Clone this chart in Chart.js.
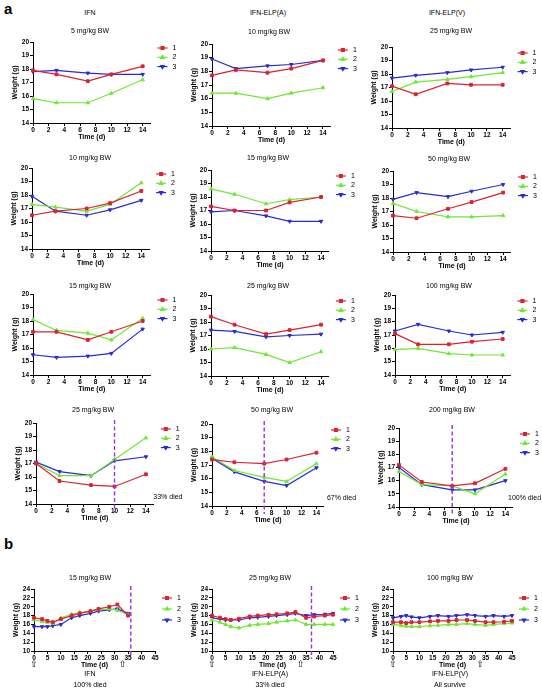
<!DOCTYPE html>
<html>
<head>
<meta charset="utf-8">
<script src="https://cdn.jsdelivr.net/npm/chart.js@4.4.1/dist/chart.umd.min.js"></script>
<style>
  body { margin: 0; background: #fff; }
  #fig { position: relative; width: 542px; height: 688px; font-family: "Liberation Sans", Arial, sans-serif; color: #000; overflow: hidden; }
  .t { position: absolute; font-size: 7px; white-space: nowrap; transform: translate(-50%, -50%); color: #000; }
  .lab { position: absolute; font-size: 15px; font-weight: bold; }
  canvas { position: absolute; }
</style>
</head>
<body>
<div id="fig"></div>
<script>
// ---- data ----
const groups = ["1", "2", "3"];
const daysA = [0, 3, 7, 10, 14];
const xTicksA = [0, 2, 4, 6, 8, 10, 12, 14];
const yTicksA = [14, 15, 16, 17, 18, 19, 20];
const daysB = [0, 3, 5, 7, 10, 14, 17, 21, 24, 28, 31, 35];
const daysBLong = [0, 3, 5, 7, 10, 14, 17, 21, 24, 28, 31, 35, 38, 42, 45];
const xTicksB = [0, 5, 10, 15, 20, 25, 30, 35, 40, 45];
const yTicksB = [10, 12, 14, 16, 18, 20, 22, 24];

// IFN
const ifn5 = [[17.9, 17.6, 17.1, 17.6, 18.2], [15.8, 15.5, 15.5, 16.2, 17.2], [17.8, 17.9, 17.7, 17.6, 17.6]];
const ifn10 = [[16.5, 16.8, 17.0, 17.4, 18.3], [17.3, 17.1, 16.8, 17.3, 18.9], [17.9, 16.8, 16.5, 16.9, 17.6]];
const ifn15 = [[17.2, 17.2, 16.6, 17.2, 18.0], [18.1, 17.3, 17.1, 16.6, 18.2], [15.5, 15.3, 15.4, 15.6, 17.4]];
const ifn25 = [[17.0, 15.7, 15.4, 15.3, 16.2], [17.0, 16.1, 16.1, 17.3, 18.9], [17.1, 16.4, 16.1, 17.2, 17.5]];
// IFN-ELP(A)
const elpA10 = [[17.7, 18.1, 17.9, 18.2, 18.8], [16.4, 16.4, 16.0, 16.4, 16.8], [18.9, 18.2, 18.4, 18.5, 18.8]];
const elpA15 = [[17.3, 17.0, 17.0, 17.6, 18.0], [18.6, 18.2, 17.5, 17.8, 18.0], [16.9, 17.0, 16.6, 16.2, 16.2]];
const elpA25 = [[18.4, 17.8, 17.1, 17.4, 17.8], [16.0, 16.1, 15.6, 15.0, 15.8], [17.4, 17.3, 16.9, 17.0, 17.1]];
const elpA50 = [[17.4, 17.2, 17.1, 17.4, 17.9], [17.6, 16.6, 16.1, 15.8, 17.1], [17.5, 16.5, 15.8, 15.5, 16.8]];
// IFN-ELP(V)
const elpV25 = [[17.1, 16.5, 17.3, 17.2, 17.2], [16.7, 17.4, 17.6, 17.8, 18.1], [17.7, 17.9, 18.1, 18.3, 18.5]];
const elpV50 = [[16.7, 16.5, 17.2, 17.7, 18.4], [17.6, 17.0, 16.6, 16.6, 16.7], [17.9, 18.4, 18.1, 18.5, 19.0]];
const elpV100 = [[17.1, 16.3, 16.3, 16.5, 16.7], [15.9, 16.0, 15.6, 15.5, 15.5], [17.3, 17.8, 17.3, 17.0, 17.2]];
const elpV200 = [[17.2, 15.9, 15.6, 15.8, 16.9], [16.7, 15.7, 15.6, 15.0, 16.5], [17.0, 15.7, 15.3, 15.3, 16.0]];
// b: long term
const bIfn15 = [[17.5, 17.2, 16.8, 16.5, 17.2, 18.0, 18.5, 19.0, 19.5, 20.0, 20.5, 18.0],
                [17.0, 16.7, 16.5, 16.2, 17.5, 18.3, 18.7, 19.0, 19.3, 19.5, 19.2, 18.2],
                [15.5, 15.5, 15.5, 15.7, 16.0, 17.5, 18.0, 18.5, 19.0, 19.3, 19.5, 18.5]];
const bElpA25 = [[18.0, 17.5, 17.2, 17.0, 17.3, 17.8, 18.0, 18.2, 18.3, 18.5, 18.8, 17.5, 17.8, 18.0, 18.2],
                 [17.0, 16.5, 16.0, 15.5, 15.2, 15.8, 16.0, 16.2, 16.5, 16.8, 17.0, 16.0, 16.0, 16.0, 16.0],
                 [17.5, 17.2, 17.0, 17.0, 17.0, 17.5, 17.6, 17.8, 18.0, 18.2, 18.5, 18.0, 18.2, 18.3, 18.5]];
const bElpV100 = [[16.5, 16.5, 16.3, 16.5, 16.5, 16.7, 16.8, 16.8, 17.0, 17.0, 16.8, 16.5, 16.5, 16.6, 16.8],
                  [16.0, 15.8, 15.6, 15.5, 15.5, 15.7, 15.8, 16.0, 16.0, 16.2, 16.0, 15.8, 16.0, 16.2, 16.3],
                  [17.5, 17.8, 18.0, 17.7, 17.5, 17.8, 18.0, 17.8, 18.0, 18.2, 18.0, 17.8, 18.0, 17.8, 18.0]];

// ---- styles ----
const colors = ["#dd2233", "#6ee832", "#2b2bd0"];
const marks = ["rect", "triangle", "triangle"];
const markRot = [0, 0, 180];

const A = { days: daysA, xt: xTicksA, yt: yTicksA, xmax: 15, ymin: 14, ymax: 20, legTop: 6, legGap: 9.3 };
const B = { yt: yTicksB, xt: xTicksB, xmax: 45, ymin: 10, ymax: 24, legTop: 9, legGap: 11 };

const panels = [
  { d: ifn5, s: A, box: [33, 150.5, 42, 122.7], title: "5 mg/kg BW", tx: 90, ty: 30 },
  { d: elpA10, s: A, box: [211.7, 330.6, 44, 126], title: "10 mg/kg BW", tx: 269, ty: 31 },
  { d: elpV25, s: A, box: [392, 510.6, 47, 127.7], title: "25 mg/kg BW", tx: 451, ty: 30 },
  { d: ifn10, s: A, box: [31.7, 148.8, 167.7, 248.3], title: "10 mg/kg BW", tx: 90, ty: 157 },
  { d: elpA15, s: A, box: [210.7, 328.6, 170, 251], title: "15 mg/kg BW", tx: 268, ty: 157 },
  { d: elpV50, s: A, box: [392.7, 510.6, 170.7, 251.7], title: "50 mg/kg BW", tx: 449, ty: 158 },
  { d: ifn15, s: A, box: [33, 150.5, 294, 375], title: "15 mg/kg BW", tx: 90, ty: 285 },
  { d: elpA25, s: A, box: [210.7, 328.6, 295, 376], title: "25 mg/kg BW", tx: 268, ty: 285 },
  { d: elpV100, s: A, box: [395, 510.4, 294.7, 375], title: "100 mg/kg BW", tx: 449, ty: 285 },
  { d: ifn25, s: A, box: [35.7, 153.5, 422.7, 503.3], title: "25 mg/kg BW", tx: 93, ty: 409,
    die: 10, note: "33% died", nx: -0.5, ny: -7 },
  { d: elpA50, s: A, box: [212.3, 324.2, 424, 506], title: "50 mg/kg BW", tx: 272, ty: 409,
    die: 7, note: "67% died", nx: 3, ny: -8 },
  { d: elpV200, s: A, box: [399.3, 513.3, 428, 507], title: "200 mg/kg BW", tx: 452, ty: 409,
    die: 7, note: "100% died", nx: -5, ny: -9 },
  { d: bIfn15, s: B, days: daysB, box: [34, 155, 589, 651], title: "15 mg/kg BW", tx: 90, ty: 577,
    die: 36, arrows: [0, 33], foot: ["IFN", "100% died"], fx: 90 },
  { d: bElpA25, s: B, days: daysBLong, box: [212, 333, 589, 651], title: "25 mg/kg BW", tx: 270, ty: 577,
    die: 37, arrows: [0, 33], foot: ["IFN-ELP(A)", "33% died"], fx: 270 },
  { d: bElpV100, s: B, days: daysBLong, box: [393, 512, 589, 651], title: "100 mg/kg BW", tx: 450, ty: 577,
    arrows: [0, 33], foot: ["IFN-ELP(V)", "All survive"], fx: 450 }
];

const fig = document.getElementById("fig");
function addText(txt, x, y, cls) {
  const el = document.createElement("div");
  el.className = cls || "t";
  el.textContent = txt;
  el.style.left = x + "px";
  el.style.top = y + "px";
  fig.appendChild(el);
}

addText("a", 4, 0, "lab");
addText("b", 4, 535, "lab");
addText("IFN", 90, 12);
addText("IFN-ELP(A)", 268, 12);
addText("IFN-ELP(V)", 447, 12);

const Y_W = 22, X_H = 18, PAD_T = 8, PAD_R = 40;
const tickFont = { family: "Liberation Sans", size: 6.5, weight: "bold" };
const titleFont = { family: "Liberation Sans", size: 7, weight: "bold" };

// legend, dashed death line, notes and dosing arrows
const extras = {
  id: "extras",
  afterDraw(chart, args, o) {
    const { ctx, chartArea: ca, scales } = chart;
    const p = o.p;
    ctx.save();
    if (p.die !== undefined) {
      const x = scales.x.getPixelForValue(p.die);
      ctx.strokeStyle = "#9b30e0";
      ctx.lineWidth = 1.4;
      ctx.setLineDash([4, 2.5]);
      ctx.beginPath();
      ctx.moveTo(x, ca.top - 3);
      ctx.lineTo(x, ca.bottom + 8);
      ctx.stroke();
      ctx.setLineDash([]);
    }
    chart.data.datasets.forEach((ds, i) => {
      const y = ca.top + p.s.legTop + i * p.s.legGap;
      const x0 = ca.right + 7;
      ctx.strokeStyle = ds.borderColor;
      ctx.lineWidth = 1.2;
      ctx.beginPath();
      ctx.moveTo(x0, y);
      ctx.lineTo(x0 + 10, y);
      ctx.stroke();
      ctx.fillStyle = ds.borderColor;
      Chart.helpers.drawPoint(ctx, { pointStyle: ds.pointStyle, radius: 2, rotation: ds.pointRotation, borderWidth: 1 }, x0 + 5, y);
      ctx.fillStyle = "#000";
      ctx.font = "7px 'Liberation Sans'";
      ctx.textBaseline = "middle";
      ctx.textAlign = "left";
      ctx.fillText(ds.label, x0 + 15, y);
    });
    if (p.note) {
      ctx.fillStyle = "#000";
      ctx.font = "7px 'Liberation Sans'";
      ctx.textBaseline = "middle";
      ctx.textAlign = "left";
      ctx.fillText(p.note, ca.right + p.nx, ca.bottom + p.ny);
    }
    if (p.arrows) {
      ctx.fillStyle = "#000";
      ctx.font = "9px 'DejaVu Sans'";
      ctx.textAlign = "center";
      ctx.textBaseline = "middle";
      p.arrows.forEach(d => ctx.fillText("\u21e7", scales.x.getPixelForValue(d), ca.bottom + 14));
    }
    ctx.restore();
  }
};

panels.forEach(p => {
  const [L, R, T, Bt] = p.box;
  const s = p.s;
  const days = p.days || s.days;
  const cv = document.createElement("canvas");
  const w = Math.round(R - L + Y_W + PAD_R);
  const h = Math.round(Bt - T + PAD_T + X_H);
  cv.width = w; cv.height = h;
  cv.style.left = (L - Y_W) + "px";
  cv.style.top = (T - PAD_T) + "px";
  cv.style.width = w + "px"; cv.style.height = h + "px";
  fig.appendChild(cv);
  addText(p.title, p.tx, p.ty);
  if (p.foot) {
    addText(p.foot[0], p.fx, 673);
    addText(p.foot[1], p.fx, 684);
  }

  new Chart(cv, {
    type: "line",
    data: {
      datasets: p.d.map((vals, i) => ({
        label: groups[i],
        data: vals.map((v, j) => ({ x: days[j], y: v })),
        borderColor: colors[i],
        backgroundColor: colors[i],
        borderWidth: 1.2,
        pointStyle: marks[i],
        pointRotation: markRot[i],
        pointRadius: 2,
        pointBorderWidth: 1,
        tension: 0,
        clip: false
      }))
    },
    options: {
      responsive: false,
      animation: false,
      devicePixelRatio: 1,
      layout: { padding: { top: PAD_T, right: (w - (R - L) - Y_W), left: 0, bottom: 0 } },
      plugins: { legend: { display: false }, tooltip: { enabled: false }, extras: { p } },
      scales: {
        x: {
          type: "linear", min: 0, max: s.xmax,
          afterBuildTicks: sc => { sc.ticks = s.xt.map(v => ({ value: v })); },
          afterFit: sc => { sc.height = X_H; },
          grid: { drawOnChartArea: false, tickLength: 3, color: "#000" },
          border: { color: "#000", width: 1 },
          ticks: { color: "#000", font: tickFont, padding: 0, maxRotation: 0, autoSkip: false },
          title: { display: true, text: "Time (d)", color: "#000", font: titleFont, padding: 0 }
        },
        y: {
          min: s.ymin, max: s.ymax,
          afterBuildTicks: sc => { sc.ticks = s.yt.map(v => ({ value: v })); },
          afterFit: sc => { sc.width = Y_W; },
          grid: { drawOnChartArea: false, tickLength: 3, color: "#000" },
          border: { color: "#000", width: 1 },
          ticks: { color: "#000", font: tickFont, padding: 1, autoSkip: false },
          title: { display: true, text: "Weight (g)", color: "#000", font: titleFont, padding: 0 }
        }
      }
    },
    plugins: [extras]
  });
});
</script>
</body>
</html>
